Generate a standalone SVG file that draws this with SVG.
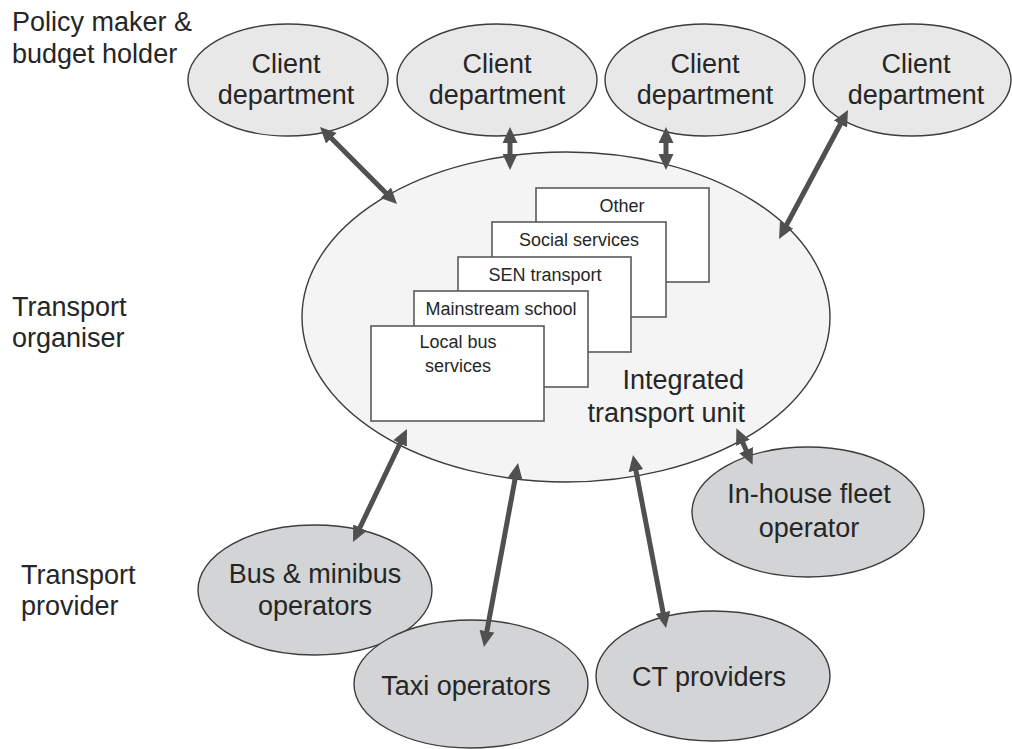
<svg xmlns="http://www.w3.org/2000/svg" width="1012" height="749" viewBox="0 0 1012 749">
<defs>
<style>
text{font-family:"Liberation Sans",Arial,sans-serif;fill:#262626}
.big{font-size:27px;text-anchor:middle}
.lbl{font-size:27px}
.sm{font-size:18px;text-anchor:middle}
.top{fill:#e8e8e9;stroke:#3c3c3c;stroke-width:1.4}
.hub{fill:#f4f4f4;stroke:#3c3c3c;stroke-width:1.4}
.bot{fill:#d3d4d6;stroke:#3c3c3c;stroke-width:1.4}
.box{fill:#ffffff;stroke:#5a5a5a;stroke-width:1.6}
.arr{stroke:#505050;stroke-width:5;fill:none;marker-start:url(#ah);marker-end:url(#ah)}
</style>
<marker id="ah" markerUnits="userSpaceOnUse" markerWidth="16" markerHeight="15" viewBox="0 0 16 15" refX="1" refY="7.5" orient="auto-start-reverse">
<path d="M0,0 L16,7.5 L0,15 z" fill="#505050"/>
</marker>
</defs>

<g id="side-labels">
<text class="lbl" x="12" y="31">Policy maker &amp;</text>
<text class="lbl" x="12" y="63">budget holder</text>
<text class="lbl" x="12" y="316">Transport</text>
<text class="lbl" x="12" y="347">organiser</text>
<text class="lbl" x="21" y="584">Transport</text>
<text class="lbl" x="21" y="615">provider</text>
</g>

<g id="client1"><ellipse class="top" cx="288" cy="80" rx="100" ry="56"/><text class="big" x="286" y="73">Client</text><text class="big" x="286" y="104">department</text></g>
<g id="client2"><ellipse class="top" cx="497" cy="80" rx="100" ry="56"/><text class="big" x="497" y="73">Client</text><text class="big" x="497" y="104">department</text></g>
<g id="client3"><ellipse class="top" cx="705" cy="80" rx="100" ry="56"/><text class="big" x="705" y="73">Client</text><text class="big" x="705" y="104">department</text></g>
<g id="client4"><ellipse class="top" cx="912" cy="80" rx="99" ry="56"/><text class="big" x="916" y="73">Client</text><text class="big" x="916" y="104">department</text></g>

<g id="itu">
<ellipse class="hub" cx="566" cy="317" rx="264" ry="165"/>
<rect class="box" x="536" y="188" width="173" height="94"/>
<text class="sm" x="622" y="212">Other</text>
<rect class="box" x="492" y="222" width="174" height="95"/>
<text class="sm" x="579" y="246">Social services</text>
<rect class="box" x="458" y="257" width="173" height="95"/>
<text class="sm" x="545" y="281">SEN transport</text>
<rect class="box" x="414" y="291" width="174" height="96"/>
<text class="sm" x="501" y="315">Mainstream school</text>
<rect class="box" x="371" y="326" width="173" height="95"/>
<text class="sm" x="458" y="348">Local bus</text>
<text class="sm" x="458" y="372">services</text>
<text class="lbl" x="744" y="389" text-anchor="end">Integrated</text>
<text class="lbl" x="745" y="422" text-anchor="end">transport unit</text>
</g>

<g id="inhouse"><ellipse class="bot" cx="808" cy="512" rx="116" ry="65"/><text class="big" x="809" y="503">In-house fleet</text><text class="big" x="809" y="537">operator</text></g>
<g id="bus"><ellipse class="bot" cx="315" cy="590" rx="117" ry="65"/><text class="big" x="315" y="583">Bus &amp; minibus</text><text class="big" x="315" y="615">operators</text></g>
<g id="taxi"><ellipse class="bot" cx="471" cy="684" rx="117" ry="64"/><text class="big" x="466" y="695">Taxi operators</text></g>
<g id="ct"><ellipse class="bot" cx="713" cy="676" rx="117" ry="65"/><text class="big" x="709" y="686">CT providers</text></g>

<g id="connectors">
<line class="arr" x1="330.6" y1="137.6" x2="386.4" y2="193.4"/>
<line class="arr" x1="510" y1="142" x2="510" y2="155"/>
<line class="arr" x1="666" y1="142" x2="666" y2="155"/>
<line class="arr" x1="840.9" y1="123.2" x2="786.1" y2="225.8"/>
<line class="arr" x1="400.5" y1="442.5" x2="359.5" y2="528.5"/>
<line class="arr" x1="515.3" y1="477.8" x2="486.7" y2="632.2"/>
<line class="arr" x1="635.8" y1="469.7" x2="663.2" y2="613.3"/>
<line class="arr" x1="742.5" y1="442" x2="746.5" y2="451"/>
</g>
</svg>
